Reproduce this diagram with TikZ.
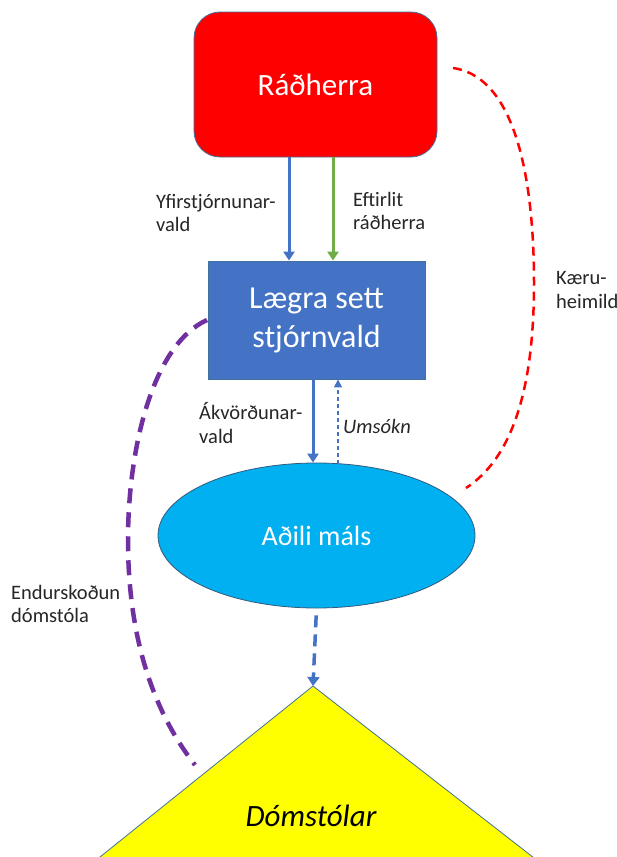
\documentclass[tikz,border=0pt]{standalone}
\usepackage{fontspec}
\setmainfont{Carlito}
\usetikzlibrary{arrows.meta,shapes.geometric}
\definecolor{cRed}{HTML}{FF0000}
\definecolor{cBlue}{HTML}{4472C4}
\definecolor{cGreen}{HTML}{70AD47}
\definecolor{cCyan}{HTML}{00B0F0}
\definecolor{cYellow}{HTML}{FFFF00}
\definecolor{cPurple}{HTML}{7030A0}
\definecolor{cEdge}{HTML}{41719C}
\definecolor{cLabel}{HTML}{262626}
\tikzset{
  boxtext/.style={text=white,align=center},
  lbl/.style={text=cLabel,align=left,anchor=west,inner sep=0pt,font=\fontsize{20.5}{23.5}\selectfont},
  solidarrow/.style={line width=3pt,-{Triangle[width=11pt,length=9pt]}},
  thinarrow/.style={line width=1.2pt,dash pattern=on 4pt off 3pt,-{Triangle[width=8pt,length=8pt]}},
  dasharrow/.style={line width=3.5pt,dash pattern=on 12pt off 7pt,-{Triangle[width=12pt,length=9pt]}},
  reddash/.style={cRed,line width=2.5pt,dash pattern=on 9pt off 6pt},
  purpledash/.style={cPurple,line width=4.5pt,dash pattern=on 15pt off 9pt},
}
\begin{document}
\begin{tikzpicture}[x=1pt,y=-1pt]
\useasboundingbox (0,0) rectangle (617,857);
\fill[white] (0,0) rectangle (617,857);

% triangle
\coordinate (apex) at (313,686);
\begin{scope}
\clip (0,0) rectangle (617,857);
\filldraw[fill=cYellow,draw=cEdge,line width=0.8pt] (apex) -- (95,861) -- (538,861) -- cycle;
\end{scope}
\node[font=\fontsize{31}{36}\selectfont\itshape,text=black] (dom) at (311,816) {Dómstólar};

% nodes
\node[draw=cEdge,line width=0.8pt,fill=cRed,rounded corners=26pt,minimum width=243pt,minimum height=145pt,inner sep=0pt,
      boxtext,font=\fontsize{31}{36}\selectfont] (radh) at (315.5,84.5) {Ráðherra};
\node[draw=cEdge,line width=0.8pt,fill=cBlue,minimum width=217pt,minimum height=118pt,inner sep=0pt,
      boxtext,font=\fontsize{32}{39}\selectfont] (laegra) at (316.5,320) {Lægra sett\\stjórnvald};
\node[ellipse,draw=cEdge!80!black,line width=0.8pt,fill=cCyan,minimum width=317pt,minimum height=145pt,inner sep=0pt,
      boxtext,font=\fontsize{28}{34}\selectfont] (ell) at (316.5,535.5) {Aðili máls};

% arrows between boxes
\draw[solidarrow,cBlue] ([xshift=-26.5pt]radh.south) -- ([xshift=-26.5pt]radh.south |- laegra.north);
\draw[solidarrow,cGreen] ([xshift=17.5pt]radh.south) -- ([xshift=17.5pt]radh.south |- laegra.north);
\draw[solidarrow,cBlue] ([xshift=-3.5pt]laegra.south) -- ([xshift=-3.5pt]laegra.south |- ell.north);
\draw[thinarrow,cBlue] ([xshift=21.5pt,yshift=-1pt]laegra.south |- ell.north) -- ([xshift=21.5pt]laegra.south);
\draw[dasharrow,cBlue,shorten <=7pt] (ell.south) -- (apex);

% curved dashed connectors
\coordinate (kS) at (453,68);
\coordinate (kE) at (466,488);
\draw[reddash] (kS) .. controls (522,78) and (534,200) .. (534,283) .. controls (534,390) and (512,458) .. (kE);
\coordinate (pS) at (207,320);
\coordinate (pE) at (195,765);
\draw[purpledash] (pS) .. controls (152,345) and (128,450) .. (128,540) .. controls (128,650) and (160,720) .. (pE);

% labels
\node[lbl] (l1) at (156,213) {Yfirstjórnunar-\\vald};
\node[lbl] (l2) at (353,211) {Eftirlit\\ráðherra};
\node[lbl] (l3) at (199,423) {Ákvörðunar-\\vald};
\node[lbl,font=\fontsize{20.5}{23.5}\selectfont\itshape] (l4) at (343,426) {Umsókn};
\node[lbl] (l5) at (556,290) {Kæru-\\heimild};
\node[lbl] (l6) at (11,604) {Endurskoðun\\dómstóla};
\end{tikzpicture}
\end{document}
